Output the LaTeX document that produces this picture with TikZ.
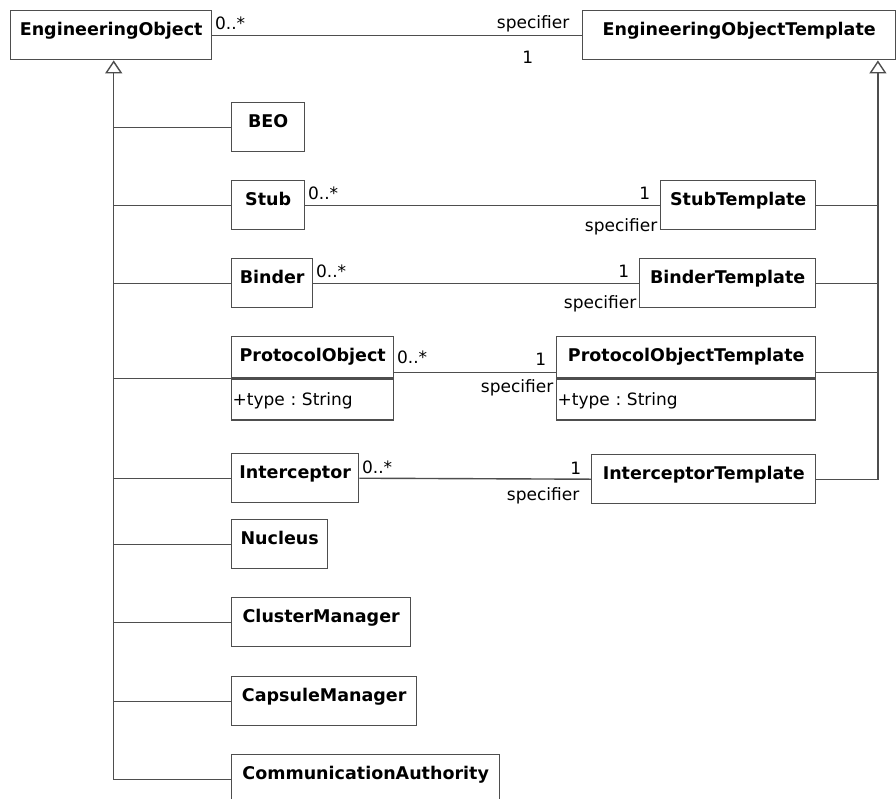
\documentclass[tikz,border=0pt]{standalone}
\usepackage{fontspec}
\setmainfont{DejaVu Sans}
\usetikzlibrary{arrows.meta}

\definecolor{lineGray}{HTML}{4E4E4E}

\tikzset{
    cls/.style={draw=lineGray, line width=1.4pt, rectangle, anchor=north west,
        inner xsep=0pt, inner ysep=0pt, text height=25pt, text depth=24pt,
        font=\fontsize{17.5}{20}\selectfont\bfseries},
    clsname/.style={cls, text depth=16pt},
    clsattr/.style={draw=lineGray, line width=1.4pt, rectangle, anchor=north west,
        inner xsep=1pt, inner ysep=0pt, text height=26pt, text depth=15pt,
        align=left, font=\fontsize{17}{20}\selectfont},
    lbl/.style={inner sep=2pt, font=\fontsize{17}{20}\selectfont},
    gen/.style={draw=lineGray, line width=1.4pt},
    assoc/.style={draw=lineGray, line width=1.4pt},
    genTip/.style={-{Triangle[open, width=17pt, length=13pt, line width=1.4pt]}}
}

\begin{document}
\frenchspacing
\begin{tikzpicture}[x=1pt, y=-1pt]

    \clip (0,0) rectangle (896,798);
    \fill[white] (0,0) rectangle (896,798);

    \node[cls, minimum width=201pt] (EO) at (10,10) {EngineeringObject};
    \node[cls, minimum width=313pt] (EOT) at (582,10) {EngineeringObjectTemplate};

    \node[cls, minimum width=73pt] (BEO) at (231,102) {BEO};
    \node[cls, minimum width=73pt] (Stub) at (231,180) {Stub};
    \node[cls, minimum width=81pt] (Binder) at (231,258) {Binder};
    \node[clsname, minimum width=162pt] (PO) at (231,336) {ProtocolObject};
    \node[clsattr, text width=160pt] (POattr) at (PO.south west) {+type : String};
    \node[cls, minimum width=127pt] (Interceptor) at (231,453) {Interceptor};
    \node[cls, minimum width=96pt] (Nucleus) at (231,519) {Nucleus};
    \node[cls, minimum width=179pt] (ClusterMgr) at (231,597) {ClusterManager};
    \node[cls, minimum width=185pt] (CapsuleMgr) at (231,676) {CapsuleManager};
    \node[cls, minimum width=268pt] (CommAuth) at (231,754) {CommunicationAuthority};

    \node[cls, minimum width=155pt] (StubT) at (660,180) {StubTemplate};
    \node[cls, minimum width=176pt] (BinderT) at (639,258) {BinderTemplate};
    \node[clsname, minimum width=259pt] (POT) at (556,336) {ProtocolObjectTemplate};
    \node[clsattr, text width=257pt] (POTattr) at (POT.south west) {+type : String};
    \node[cls, minimum width=224pt] (IT) at (591,454) {InterceptorTemplate};

    \coordinate (eoTrunk) at ([xshift=2.5pt]EO.south);
    \coordinate (eotTrunk) at ([xshift=-18.5pt]EOT.south east);

    \draw[gen, genTip] (CommAuth.west) -| (eoTrunk);
    \draw[gen] (BEO.west) -- (BEO.west -| eoTrunk);
    \draw[gen] (Stub.west) -- (Stub.west -| eoTrunk);
    \draw[gen] (Binder.west) -- (Binder.west -| eoTrunk);
    \draw[gen] (PO.south west) -- (PO.south west -| eoTrunk);
    \draw[gen] (Interceptor.west) -- (Interceptor.west -| eoTrunk);
    \draw[gen] (Nucleus.west) -- (Nucleus.west -| eoTrunk);
    \draw[gen] (ClusterMgr.west) -- (ClusterMgr.west -| eoTrunk);
    \draw[gen] (CapsuleMgr.west) -- (CapsuleMgr.west -| eoTrunk);

    \draw[gen, genTip] (IT.east) -| (eotTrunk);
    \draw[gen] (StubT.east) -- (StubT.east -| eotTrunk);
    \draw[gen] (BinderT.east) -- (BinderT.east -| eotTrunk);
    \draw[gen] ([yshift=6pt]POT.south east) -- ([yshift=6pt]POT.south east -| eotTrunk);

    \draw[assoc] (EO.east) -- (EOT.west)
        node[lbl, pos=0, anchor=south west, yshift=2.5pt] {0..*}
        node[lbl, pos=1, anchor=south east, xshift=-10pt] {specifier}
        node[lbl, pos=1, anchor=north east, xshift=-46pt, yshift=-13pt] {1};

    \draw[assoc] (Stub.east) -- (StubT.west)
        node[lbl, pos=0, anchor=south west, yshift=3pt] {0..*}
        node[lbl, pos=1, anchor=south east, xshift=-7pt, yshift=3pt] {1}
        node[lbl, pos=1, anchor=north east, yshift=-11pt] {specifier};

    \draw[assoc] (Binder.east) -- (BinderT.west)
        node[lbl, pos=0, anchor=south west, yshift=3pt] {0..*}
        node[lbl, pos=1, anchor=south east, xshift=-7pt, yshift=3pt] {1}
        node[lbl, pos=1, anchor=north east, yshift=-10pt] {specifier};

    \draw[assoc] ([yshift=6pt]PO.south east) -- ([yshift=6pt]POT.south west)
        node[lbl, pos=0, anchor=south west, yshift=6pt] {0..*}
        node[lbl, pos=1, anchor=south east, xshift=-7pt, yshift=4pt] {1}
        node[lbl, pos=1, anchor=north east, yshift=-4pt] {specifier};

    \draw[assoc] (Interceptor.east) -- (IT.west)
        node[lbl, pos=0, anchor=south west, yshift=2pt] {0..*}
        node[lbl, pos=1, anchor=south east, xshift=-7pt, yshift=2pt] {1}
        node[lbl, pos=1, anchor=north east, xshift=-9pt, yshift=-6pt] {specifier};

\end{tikzpicture}
\end{document}
